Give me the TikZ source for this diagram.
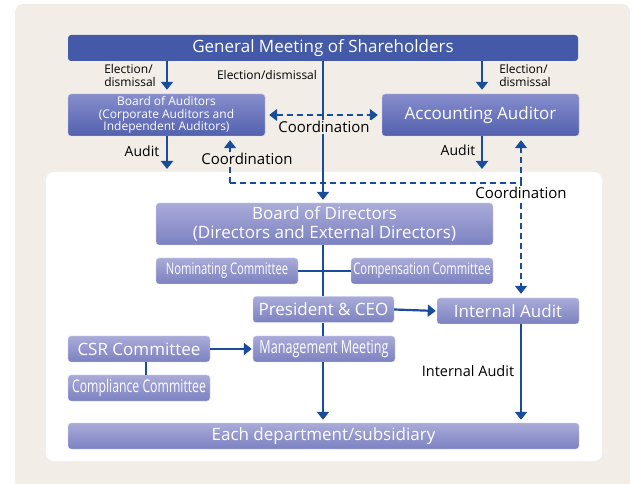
\documentclass[tikz,border=0pt]{standalone}
\usepackage{fontspec}
\setmainfont{Open Sans}
\newfontfamily\condfont[FakeStretch=0.7]{Open Sans}
\usetikzlibrary{arrows.meta}

\definecolor{bgbeige}{HTML}{F2EEE7}
\definecolor{gmblue}{HTML}{4459A8}
\definecolor{linkblue}{HTML}{1A4C9C}
\definecolor{darktop}{HTML}{868DCC}
\definecolor{darkbot}{HTML}{5361AE}
\definecolor{lighttop}{HTML}{A9ABD8}
\definecolor{lightbot}{HTML}{7C81C1}

\tikzset{
  darkbox/.style={rounded corners=3pt, top color=darktop, bottom color=darkbot,
    draw=white!60!darktop, text=white, align=center, inner sep=0pt},
  lightbox/.style={rounded corners=3pt, top color=lighttop, bottom color=lightbot,
    draw=white!60!lighttop, text=white, align=center, inner sep=0pt},
  link/.style={draw=linkblue, line width=2.2pt},
  coordlink/.style={draw=linkblue, line width=1.8pt, dash pattern=on 6pt off 4pt},
  lbl/.style={text=black, align=left, inner sep=1pt},
  >={Triangle[length=8pt,width=12pt]}
}

\begin{document}
\begin{tikzpicture}[x=1pt,y=-1pt]
        \useasboundingbox (0,0) rectangle (633,484);
        % Fundo
        \fill[bgbeige, rounded corners=8pt] (15,4) rectangle (630,500);
        \fill[white, rounded corners=8pt] (46,172) rectangle (602,461);

        % Caixas
        \node[rounded corners=3pt, fill=gmblue, text=white, minimum width=510pt, minimum height=26pt,
          font=\fontsize{17}{19}\selectfont] (gms) at (323,48) {General Meeting of Shareholders};
        \node[darkbox, minimum width=197pt, minimum height=42pt, font=\fontsize{12}{12.5}\selectfont]
          (boa) at (166.5,115) {Board of Auditors\\(Corporate Auditors and\\Independent Auditors)};
        \node[darkbox, minimum width=197pt, minimum height=42pt, font=\fontsize{17}{19}\selectfont]
          (acc) at (480.5,115) {Accounting Auditor};
        \node[lightbox, minimum width=337pt, minimum height=42pt, font=\fontsize{17}{18.5}\selectfont]
          (bod) at (324.5,224) {Board of Directors\\(Directors and External Directors)};
        \node[lightbox, minimum width=142pt, minimum height=26pt, font=\condfont\fontsize{16}{18}\selectfont]
          (nom) at (227,271) {Nominating Committee};
        \node[lightbox, minimum width=142pt, minimum height=26pt, font=\condfont\fontsize{16}{18}\selectfont]
          (comp) at (422,271) {Compensation Committee};
        \node[lightbox, minimum width=141pt, minimum height=26pt, font=\fontsize{17}{19}\selectfont]
          (pres) at (323.5,309.5) {President \& CEO};
        \node[lightbox, minimum width=142pt, minimum height=26pt, font=\fontsize{17}{19}\selectfont]
          (ia) at (508,311) {Internal Audit};
        \node[lightbox, minimum width=142pt, minimum height=26pt, font=\fontsize{17}{19}\selectfont]
          (csr) at (139,349) {CSR Committee};
        \node[lightbox, minimum width=142pt, minimum height=26pt, font=\condfont\fontsize{17.5}{19}\selectfont]
          (compl) at (139,388) {Compliance Committee};
        \node[lightbox, minimum width=142pt, minimum height=26pt, font=\condfont\fontsize{18}{20}\selectfont]
          (mgmt) at (324,349) {Management Meeting};
        \node[lightbox, minimum width=511pt, minimum height=26pt, font=\fontsize{17}{19}\selectfont]
          (dept) at (323.5,436) {Each department/subsidiary};

        % Pontos
        \coordinate (auditl) at (167,169);
        \coordinate (auditr) at (482,169);
        \coordinate (cl) at (230,183);
        \coordinate (cr) at (521,183);

        % Setas
        \draw[link, ->, shorten >=4pt] (gms.south -| 167,0) -- (boa.north -| 167,0);
        \draw[link, ->, shorten >=4pt] (gms.south -| 482,0) -- (acc.north -| 482,0);
        \draw[link, ->, shorten >=3pt] (gms.south -| 323,0) -- (bod.north -| 323,0);
        \draw[link, ->] (boa.south -| auditl) -- (auditl);
        \draw[link, ->] (acc.south -| auditr) -- (auditr);
        \draw[link] (bod.south -| 323,0) -- (pres.north -| 323,0);
        \draw[link] (nom.east) -- (comp.west);
        \draw[link, ->, shorten >=1pt] (pres.east) -- (ia.west);
        \draw[link] (pres.south -| 323,0) -- (mgmt.north -| 323,0);
        \draw[link, ->, shorten >=3pt] (mgmt.south -| 323,0) -- (dept.north -| 323,0);
        \draw[link, ->, shorten >=3pt] (ia.south -| cr) -- (dept.north -| cr);
        \draw[link, ->, shorten >=1pt] (csr.east) -- (mgmt.west);
        \draw[link, line width=1.8pt] ([xshift=7pt]csr.south) -- ([xshift=7pt]compl.north);

        % Coordenacao
        \draw[coordlink, <->, shorten <=4pt, shorten >=4pt] (boa.east) -- (acc.west);
        \draw[coordlink, ->, shorten >=4pt] (cl) -- (boa.south -| cl);
        \draw[coordlink] (cl) -- (cr);
        \draw[coordlink, ->, shorten >=4pt] (cr) -- (acc.south -| cr);
        \draw[coordlink, ->, shorten >=4pt] (cr) -- (ia.north -| cr);

        % Rotulos
        \node[lbl, font=\fontsize{12}{13}\selectfont] (el) at (130,76) {Election/\\dismissal};
        \node[lbl, font=\fontsize{12}{13}\selectfont] (em) at (267,75) {Election/dismissal};
        \node[lbl, font=\fontsize{12}{13}\selectfont] (er) at (525,76) {Election/\\dismissal};
        \node[lbl, fill=bgbeige, font=\fontsize{15}{17}\selectfont] (co1) at (324,127) {Coordination};
        \node[lbl, fill=bgbeige, font=\fontsize{15}{17}\selectfont] (co2) at (247,159) {Coordination};
        \node[lbl, fill=white, font=\fontsize{15}{17}\selectfont] (co3) at (521,193) {Coordination};
        \node[lbl, font=\fontsize{14}{16}\selectfont] (al) at (142,151) {Audit};
        \node[lbl, font=\fontsize{14}{16}\selectfont] (ar) at (458,150) {Audit};
        \node[lbl, font=\fontsize{14.5}{16}\selectfont] (ial) at (468,371) {Internal Audit};
    \end{tikzpicture}
\end{document}
